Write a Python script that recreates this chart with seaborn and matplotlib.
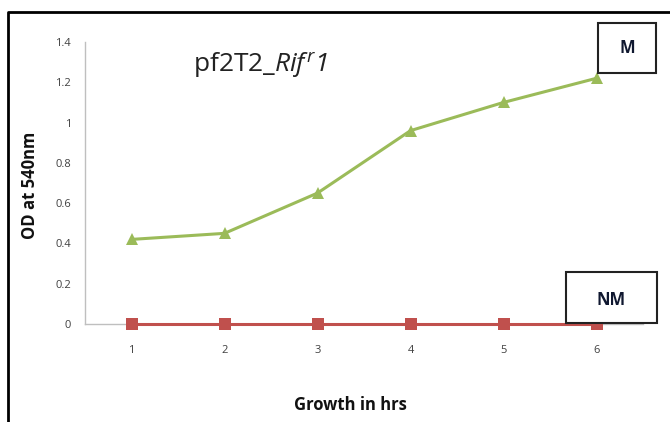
import pandas as pd
import matplotlib
matplotlib.use("Agg")
import matplotlib.pyplot as plt
import seaborn as sns
from matplotlib.patches import Rectangle

hours = [1, 2, 3, 4, 5, 6]
od_m = [0.42, 0.45, 0.65, 0.96, 1.10, 1.22]
od_nm = [0, 0, 0, 0, 0, 0]
y_ticks = [0, 0.2, 0.4, 0.6, 0.8, 1, 1.2, 1.4]
y_labels = ["0", "0.2", "0.4", "0.6", "0.8", "1", "1.2", "1.4"]

data = pd.DataFrame({
    "Hours": hours * 2,
    "OD": od_m + od_nm,
    "Series": ["M"] * len(hours) + ["NM"] * len(hours),
})

sns.set_style("white")
plt.rcParams["font.family"] = ["Open Sans", "DejaVu Sans"]
plt.rcParams["mathtext.fontset"] = "custom"
plt.rcParams["mathtext.rm"] = "Open Sans:italic"
plt.rcParams["mathtext.it"] = "Open Sans:italic"

fig = plt.figure(figsize=(6.7, 4.22), dpi=100)
ax = fig.add_axes([85 / 670, 1 - 324 / 422, 558 / 670, 282 / 422])

sns.lineplot(data=data, x="Hours", y="OD", hue="Series", style="Series",
             palette={"M": "#9bbb59", "NM": "#c0504d"},
             markers={"M": "^", "NM": "s"}, dashes=False,
             markersize=8, markeredgewidth=0, linewidth=2.2,
             legend=False, ax=ax, clip_on=False, zorder=3)

ax.set_xlim(0.5, 6.5)
ax.set_ylim(0, 1.4)
ax.set_yticks(y_ticks)
ax.set_yticklabels(y_labels)
ax.set_xticks(hours)
ax.set_xticks([0.5 + i for i in range(7)], minor=True)
ax.tick_params(axis="x", which="major", length=0, labelsize=8, colors="#404040", pad=15)
ax.tick_params(axis="x", which="minor", length=4, color="#bfbfbf", direction="out")
ax.tick_params(axis="y", length=4, labelsize=8, colors="#404040", color="#bfbfbf", direction="out", pad=6)
for side in ["top", "right"]:
    ax.spines[side].set_visible(False)
for side in ["left", "bottom"]:
    ax.spines[side].set_color("#bfbfbf")
    ax.spines[side].set_linewidth(1)
ax.set_xlabel("")
ax.set_ylabel("")

fig.text(30 / 670, 1 - 185 / 422, "OD at 540nm", rotation=90, ha="center", va="center",
         fontsize=12, fontweight="bold", color="#111111")
fig.text(350 / 670, 1 - 405 / 422, "Growth in hrs", ha="center", va="center",
         fontsize=12, fontweight="bold", color="#111111")
fig.text(193 / 670, 1 - 66 / 422, r"pf2T2_$\mathit{Rif}^{\mathit{r}}\mathit{1}$",
         ha="left", va="center", fontsize=19, color="#222222")

# series label boxes
fig.patches.append(Rectangle((598 / 670, 1 - 73 / 422), 58 / 670, 50 / 422,
                             transform=fig.transFigure, fill=True, facecolor="white",
                             edgecolor="#222222", linewidth=1.5, zorder=5))
fig.text(627 / 670, 1 - 48 / 422, "M", ha="center", va="center", fontsize=12,
         fontweight="bold", color="#101830", zorder=6)
fig.patches.append(Rectangle((566 / 670, 1 - 323 / 422), 91 / 670, 51 / 422,
                             transform=fig.transFigure, fill=True, facecolor="white",
                             edgecolor="#222222", linewidth=1.5, zorder=5))
fig.text(611 / 670, 1 - 300 / 422, "NM", ha="center", va="center", fontsize=12,
         fontweight="bold", color="#101830", zorder=6)

# outer frame
fig.lines.append(plt.Line2D([8 / 670, 8 / 670, 1], [0, 1 - 12 / 422, 1 - 12 / 422],
                            transform=fig.transFigure, color="black", linewidth=2))

fig.savefig("out.png", dpi=100)
